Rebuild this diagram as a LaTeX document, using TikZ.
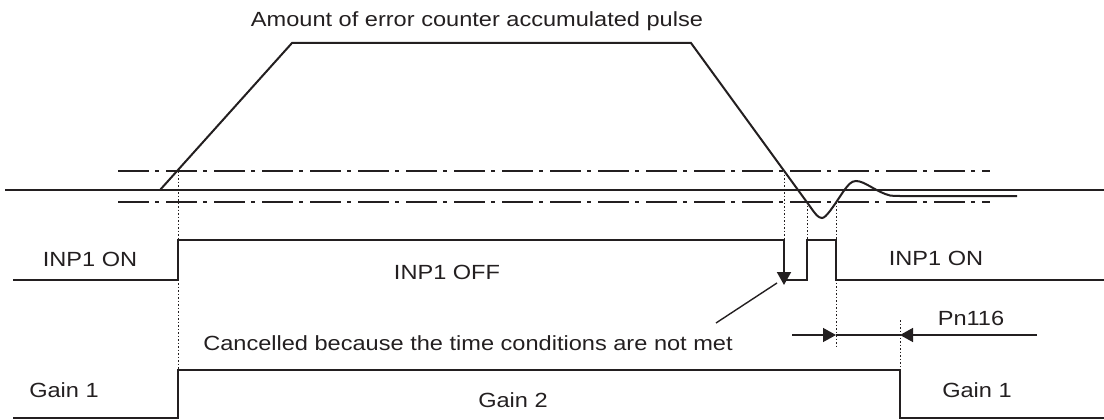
\documentclass[tikz,border=0pt]{standalone}
\usepackage{fontspec}
\setmainfont[FakeStretch=1.15]{Liberation Sans}
\usetikzlibrary{arrows.meta}
\definecolor{ink}{RGB}{35,31,32}
\begin{document}
\begin{tikzpicture}[x=1pt,y=-1pt,
  sig/.style={line width=2pt, draw=ink, line join=miter},
  thr/.style={line width=1.2pt, draw=ink, dash pattern=on 31pt off 6pt on 4pt off 7pt},
  guide/.style={line width=0.9pt, draw=ink, dash pattern=on 1.5pt off 2pt},
  thinln/.style={line width=1.4pt, draw=ink},
  lbl/.style={font=\fontsize{20.5}{24}\selectfont, text=ink, inner sep=0pt, anchor=base},
  tipd/.style={-{Triangle[length=13pt,width=14pt]}}]
\useasboundingbox (0,0) rectangle (1104,420);

% key coordinates
\coordinate (b0) at (5,190);
\coordinate (b1) at (1104,190);
\coordinate (uth0) at (118,171);
\coordinate (uth1) at (990,171);
\coordinate (lth0) at (118,202);
\coordinate (lth1) at (990,202);

% labels
\node[lbl] (title) at (477,27) {Amount of error counter accumulated pulse};
\node[lbl] (on1) at (90,266) {INP1 ON};
\node[lbl] (off) at (447,279) {INP1 OFF};
\node[lbl] (on2) at (936,265) {INP1 ON};
\node[lbl] (cancel) at (468,350) {Cancelled because the time conditions are not met};
\node[lbl] (pn) at (971,325) {Pn116};
\node[lbl] (g1a) at (64,397) {Gain 1};
\node[lbl] (g2) at (513,407) {Gain 2};
\node[lbl] (g1b) at (977,397) {Gain 1};

% baseline and thresholds
\draw[sig] (b0) -- (b1);
\draw[thr] (uth0) -- (uth1);
\draw[thr] (lth0) -- (lth1);

% error pulse curve
\draw[sig, line join=miter] (160,190) -- (292,43) -- (691,43) -- (810.4,207)
  .. controls (815,213.5) and (818,218) .. (822,218)
  .. controls (826,218) and (833,207) .. (843,192)
  .. controls (848,185) and (851,181) .. (856,181)
  .. controls (865,181) and (876,192) .. (890,195.5)
  .. controls (893,196) and (896,196) .. (900,196) -- (1017,196);

% dotted guides
\draw[guide] (178,171) -- (178,370);
\draw[guide] (784,171) -- (784,240);
\draw[guide] (807,202) -- (807,240);
\draw[guide] (836,202) -- (836,348);
\draw[guide] (900,320) -- (900,370);

% INP1 signal
\coordinate (inpA) at (13,280);
\coordinate (inpZ) at (1104,280);
\draw[sig] (inpA) -- (178,280) -- (178,240) -- (784,240) -- (784,280) -- (807,280)
  -- (807,240) -- (836,240) -- (836,280) -- (inpZ);
\coordinate (drop) at (784,262);
\coordinate (droptip) at (784,285);
\draw[sig, tipd] (drop) -- (droptip);

% leader from cancel note to the drop
\coordinate (lead0) at (716,323);
\coordinate (lead1) at (777,283);
\draw[thinln] (lead0) -- (lead1);

% Pn116 dimension
\coordinate (pnL0) at (792,335);
\coordinate (pnL1) at (836,335);
\coordinate (pnR0) at (1037,335);
\coordinate (pnR1) at (900,335);
\draw[thinln, tipd] (pnL0) -- (pnL1);
\draw[thinln] (pnL1) -- (pnR1);
\draw[thinln, tipd] (pnR0) -- (pnR1);

% Gain signal
\coordinate (gA) at (13,418);
\coordinate (gZ) at (1104,418);
\draw[sig] (gA) -- (178,418) -- (178,370) -- (900,370) -- (900,418) -- (gZ);
\end{tikzpicture}
\end{document}
